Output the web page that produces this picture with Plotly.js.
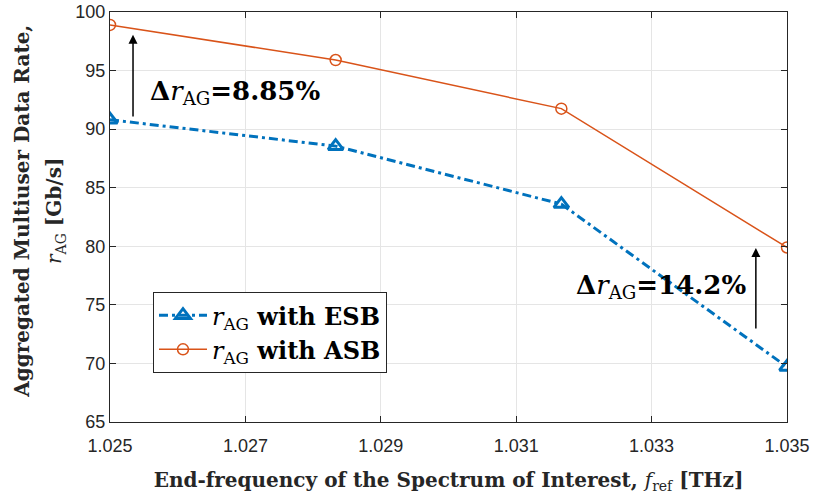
<!DOCTYPE html>
<html>
<head>
<meta charset="utf-8">
<script src="https://cdn.plot.ly/plotly-3.0.1.min.js"></script>
<style>body{margin:0;padding:0;background:#fff;}#chart{width:816px;height:503px;}</style>
</head>
<body>
<div id="chart"></div>
<script>
const freqs = [1.025, 1.028333, 1.031667, 1.035];
const rateESB = [90.8, 88.55, 83.6, 69.7];
const rateASB = [98.9, 95.9, 91.75, 79.9];
const xTicks = [1.025, 1.027, 1.029, 1.031, 1.033, 1.035];
const yTicks = [65, 70, 75, 80, 85, 90, 95, 100];
const gain1 = {x: 1.02534, from: 90.95, to: 98.05, label: "8.85%"};
const gain2 = {x: 1.03454, from: 72.85, to: 79.85, label: "14.2%"};

const serif = "'DejaVu Serif', 'Liberation Serif', serif";
const sans = "'Liberation Sans', Arial, sans-serif";

const traces = [
  {
    x: freqs, y: rateESB, mode: 'lines+markers', type: 'scatter',
    name: '<i>r</i><sub>AG</sub><b> with ESB</b>',
    line: {color: '#0072BD', width: 3, dash: '9px,4px,3px,4px'},
    marker: {symbol: 'triangle-up-open', size: 13, color: '#0072BD', line: {width: 3, color: '#0072BD'}}
  },
  {
    x: freqs, y: rateASB, mode: 'lines+markers', type: 'scatter',
    name: '<i>r</i><sub>AG</sub><b> with ASB</b>',
    line: {color: '#D95319', width: 1.5},
    marker: {symbol: 'circle-open', size: 11, color: '#D95319', line: {width: 1.5, color: '#D95319'}}
  }
];

function gainAnn(g, tx, ty) {
  return [
    {x: g.x, y: g.to, ax: g.x, ay: g.from, xref: 'x', yref: 'y', axref: 'x', ayref: 'y',
     showarrow: true, arrowhead: 2, arrowsize: 1.2, arrowwidth: 1.5, arrowcolor: '#000', text: '',
     standoff: 0},
    {x: tx, y: ty, xref: 'x', yref: 'y', showarrow: false, xanchor: 'left', yanchor: 'middle',
     text: '<b>Δ</b><i>r</i><sub>AG</sub><b>=' + g.label + '</b>',
     font: {family: serif, size: 26, color: '#000'}}
  ];
}

const layout = {
  width: 816, height: 503,
  margin: {l: 110, r: 29, t: 12, b: 81},
  paper_bgcolor: '#fff', plot_bgcolor: '#fff',
  showlegend: true,
  legend: {
    x: 0.0635, y: 0.317, xanchor: 'left', yanchor: 'top',
    bgcolor: '#fff', bordercolor: '#262626', borderwidth: 1,
    font: {family: serif, size: 24, color: '#000'},
    tracegroupgap: 0, itemwidth: 48
  },
  xaxis: {
    range: [1.025, 1.035], tickvals: xTicks, ticktext: xTicks.map(v => v.toFixed(3)),
    ticks: 'inside', ticklen: 6, tickcolor: '#262626', showline: true, linecolor: '#262626', linewidth: 1,
    mirror: 'ticks', showgrid: true, gridcolor: '#e5e5e5', zeroline: false,
    tickfont: {family: sans, size: 18, color: '#262626'}, ticklabelstandoff: 7,
    title: {text: '<b>End-frequency of the Spectrum of Interest, </b><i>f</i><sub>ref</sub><b> [THz]</b>',
            font: {family: serif, size: 20, color: '#262626'}, standoff: 18}
  },
  yaxis: {
    range: [65, 100], tickvals: yTicks,
    ticks: 'inside', ticklen: 6, tickcolor: '#262626', showline: true, linecolor: '#262626', linewidth: 1,
    mirror: 'ticks', showgrid: true, gridcolor: '#e5e5e5', zeroline: false,
    tickfont: {family: sans, size: 18, color: '#262626'}
  },
  annotations: [].concat(
    gainAnn(gain1, 1.02556, 93.1),
    gainAnn(gain2, 1.03185, 76.6),
    [
      {xref: 'paper', yref: 'paper', x: -0.13, y: 0.515, xanchor: 'center', yanchor: 'middle',
       textangle: -90, showarrow: false, text: '<b>Aggregated Multiuser Data Rate,</b>',
       font: {family: serif, size: 20, color: '#262626'}},
      {xref: 'paper', yref: 'paper', x: -0.081, y: 0.515, xanchor: 'center', yanchor: 'middle',
       textangle: -90, showarrow: false, text: '<i>r</i><sub>AG</sub><b> [Gb/s]</b>',
       font: {family: serif, size: 20, color: '#262626'}}
    ]
  )
};

Plotly.newPlot('chart', traces, layout, {displayModeBar: false, staticPlot: true});
</script>
</body>
</html>
